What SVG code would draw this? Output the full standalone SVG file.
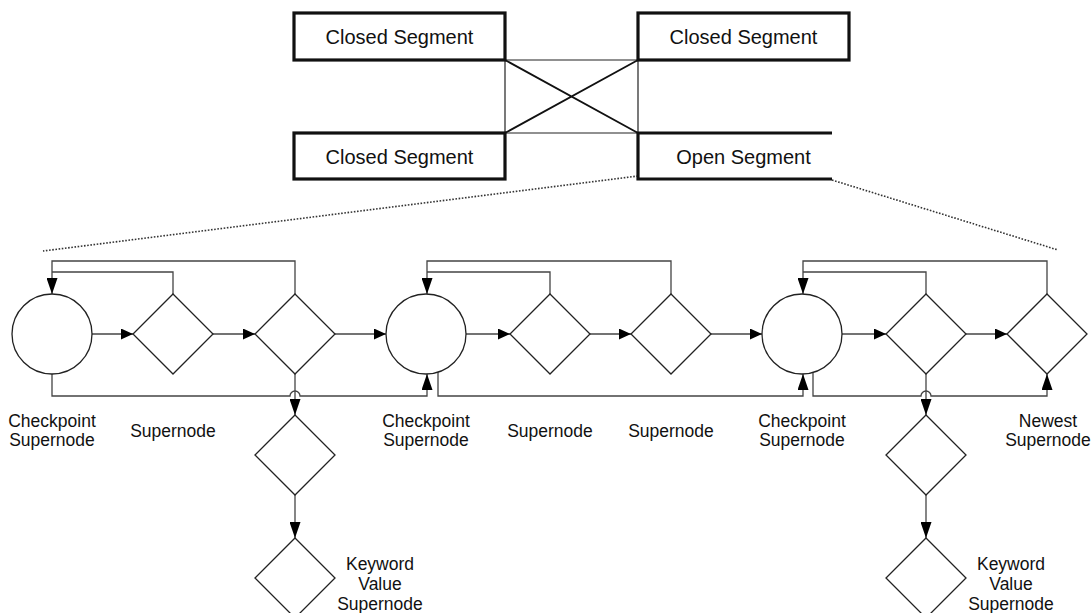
<svg xmlns="http://www.w3.org/2000/svg" width="1091" height="613" viewBox="0 0 1091 613">
<style>
  .seg { fill: none; stroke: #111; stroke-width: 3.2; }
  .thin { fill: none; stroke: #222; stroke-width: 1.2; }
  .diag { fill: none; stroke: #111; stroke-width: 1.8; }
  .dot { fill: none; stroke: #333; stroke-width: 1.6; stroke-dasharray: 1.6 1.6; }
  .node { fill: #fff; stroke: #222; stroke-width: 1.3; }
  .con { fill: none; stroke: #444; stroke-width: 1.3; }
  .h { marker-end: url(#ah); }
  .v { marker-end: url(#av); }
  .t20 { font-family: "Liberation Sans", Arial, sans-serif; font-size: 20px; fill: #111; text-anchor: middle; }
  .lbl { font-family: "Liberation Sans", Arial, sans-serif; font-size: 17.5px; fill: #111; text-anchor: middle; }
</style>
<defs>
  <marker id="ah" viewBox="0 0 12 11" refX="12" refY="5.5" markerWidth="12" markerHeight="11" markerUnits="userSpaceOnUse" orient="auto">
    <path d="M0,0 L12,5.5 L0,11 z" fill="#000"/>
  </marker>
  <marker id="av" viewBox="0 0 16 11" refX="16" refY="5.5" markerWidth="16" markerHeight="11" markerUnits="userSpaceOnUse" orient="auto">
    <path d="M0,0 L16,5.5 L0,11 z" fill="#000"/>
  </marker>
</defs>

<!-- Segment area -->
<g id="segment-links">
  <path class="thin" d="M505,60 H638 M505,133 H638 M505,60 V133 M638,60 V133"/>
  <path class="diag" d="M505,60 L638,133 M505,133 L638,60"/>
  <path class="dot" d="M638,176 L43,251"/>
  <path class="dot" d="M832,180 L1058,250"/>
</g>
<g id="seg-closed-1">
  <rect class="seg" x="294" y="13" width="211" height="47"/>
  <text class="t20" x="399.5" y="44">Closed Segment</text>
</g>
<g id="seg-closed-2">
  <rect class="seg" x="638" y="13" width="211" height="47"/>
  <text class="t20" x="743.5" y="44">Closed Segment</text>
</g>
<g id="seg-closed-3">
  <rect class="seg" x="294" y="133" width="211" height="46"/>
  <text class="t20" x="399.5" y="164">Closed Segment</text>
</g>
<g id="seg-open">
  <path class="seg" d="M832,133 H638 V179 H832"/>
  <text class="t20" x="743.5" y="164">Open Segment</text>
</g>

<!-- Connectors -->
<g id="connectors">
  <!-- feedback loops -->
  <path class="con" d="M173,294 V272 H52"/>
  <path class="con v" d="M295,294 V261 H52 V294"/>
  <path class="con" d="M550,294 V272 H427"/>
  <path class="con v" d="M671,294 V261 H427 V294"/>
  <path class="con" d="M926,294 V272 H803"/>
  <path class="con v" d="M1047,294 V261 H803 V294"/>
  <!-- forward chain -->
  <path class="con h" d="M92,334 H133"/>
  <path class="con h" d="M213,334 H255"/>
  <path class="con h" d="M335,334 H386"/>
  <path class="con h" d="M466,334 H510"/>
  <path class="con h" d="M590,334 H631"/>
  <path class="con h" d="M711,334 H762"/>
  <path class="con h" d="M842,334 H886"/>
  <path class="con h" d="M966,334 H1007"/>
  <!-- bottom lines -->
  <path class="con v" d="M52,374 V396 H290 A5,5 0 0 1 300,396 H427 V374"/>
  <path class="con v" d="M438,372 V396 H803 V374"/>
  <path class="con v" d="M813,372.5 V396 H921 A5,5 0 0 1 931,396 H1047 V374"/>
  <!-- down branches -->
  <path class="con v" d="M295,374 V415"/>
  <path class="con v" d="M295,495 V538"/>
  <path class="con v" d="M926,374 V415"/>
  <path class="con v" d="M926,495 V538"/>
</g>

<!-- Nodes -->
<g id="cp1">
  <circle class="node" cx="52" cy="334" r="40"/>
  <text class="lbl" x="52" y="427">Checkpoint</text>
  <text class="lbl" x="52" y="446">Supernode</text>
</g>
<g id="sn1">
  <path class="node" d="M173,294 L213,334 L173,374 L133,334 z"/>
  <text class="lbl" x="173" y="437">Supernode</text>
</g>
<g id="sn2">
  <path class="node" d="M295,294 L335,334 L295,374 L255,334 z"/>
</g>
<g id="sn2-child">
  <path class="node" d="M295,415 L335,455 L295,495 L255,455 z"/>
</g>
<g id="kv1">
  <path class="node" d="M295,538 L335,578 L295,618 L255,578 z"/>
  <text class="lbl" x="380" y="570">Keyword</text>
  <text class="lbl" x="380" y="590">Value</text>
  <text class="lbl" x="380" y="610">Supernode</text>
</g>
<g id="cp2">
  <circle class="node" cx="426" cy="334" r="40"/>
  <text class="lbl" x="426" y="427">Checkpoint</text>
  <text class="lbl" x="426" y="446">Supernode</text>
</g>
<g id="sn3">
  <path class="node" d="M550,294 L590,334 L550,374 L510,334 z"/>
  <text class="lbl" x="550" y="437">Supernode</text>
</g>
<g id="sn4">
  <path class="node" d="M671,294 L711,334 L671,374 L631,334 z"/>
  <text class="lbl" x="671" y="437">Supernode</text>
</g>
<g id="cp3">
  <circle class="node" cx="802" cy="334" r="40"/>
  <text class="lbl" x="802" y="427">Checkpoint</text>
  <text class="lbl" x="802" y="446">Supernode</text>
</g>
<g id="sn5">
  <path class="node" d="M926,294 L966,334 L926,374 L886,334 z"/>
</g>
<g id="sn5-child">
  <path class="node" d="M926,415 L966,455 L926,495 L886,455 z"/>
</g>
<g id="kv2">
  <path class="node" d="M926,538 L966,578 L926,618 L886,578 z"/>
  <text class="lbl" x="1011" y="570">Keyword</text>
  <text class="lbl" x="1011" y="590">Value</text>
  <text class="lbl" x="1011" y="610">Supernode</text>
</g>
<g id="newest">
  <path class="node" d="M1047,294 L1087,334 L1047,374 L1007,334 z"/>
  <text class="lbl" x="1048" y="427">Newest</text>
  <text class="lbl" x="1048" y="446">Supernode</text>
</g>
</svg>
